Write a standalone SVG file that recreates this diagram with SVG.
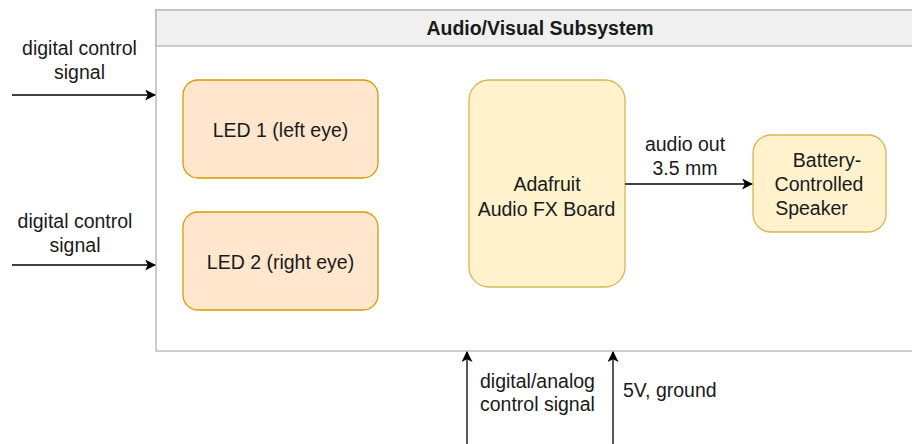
<svg xmlns="http://www.w3.org/2000/svg" width="912" height="444" viewBox="0 0 912 444">
<style>
text{font-family:"Liberation Sans",Arial,sans-serif;font-size:19.5px;fill:#1a1a1a}
.c{text-anchor:middle}
.led{fill:#ffe6cc;stroke:#d79b00;stroke-width:1.3}
.yel{fill:#fff2cc;stroke:#d6b656;stroke-width:1.3}
.edge{stroke:#000;stroke-width:1.3;fill:none;marker-end:url(#ah)}
</style>
<defs>
<marker id="ah" viewBox="0 0 10 10" refX="9" refY="5" markerWidth="11" markerHeight="11" markerUnits="userSpaceOnUse" orient="auto">
<path d="M0,0 L10,5 L0,10 L2.5,5 Z" fill="#000"/>
</marker>
</defs>
<rect width="912" height="444" fill="#fff"/>
<g id="container">
<rect x="156" y="10" width="770" height="341" fill="#fff" stroke="#b3b3b3" stroke-width="1.3"/>
<rect x="156" y="10" width="770" height="36" fill="#f0f0f0" stroke="#b3b3b3" stroke-width="1.3"/>
<text x="540" y="35" class="c" style="font-weight:bold">Audio/Visual Subsystem</text>
</g>
<g id="led1">
<rect class="led" x="183" y="80" width="195" height="98" rx="15"/>
<text x="280.5" y="137" class="c">LED 1 (left eye)</text>
</g>
<g id="led2">
<rect class="led" x="183" y="212" width="195" height="98" rx="15"/>
<text x="280.5" y="269" class="c">LED 2 (right eye)</text>
</g>
<g id="fxboard">
<rect class="yel" x="469" y="80" width="156" height="207" rx="20"/>
<text x="547" y="191" class="c">Adafruit</text>
<text x="546.5" y="216" class="c">Audio FX Board</text>
</g>
<g id="speaker">
<rect class="yel" x="753" y="135" width="133" height="97" rx="18"/>
<text x="827" y="167" class="c">Battery-</text>
<text x="819" y="191" class="c">Controlled</text>
<text x="811.5" y="215" class="c">Speaker</text>
</g>
<g id="connectors">
<line class="edge" x1="12" y1="95" x2="155" y2="95"/>
<text x="79.5" y="55" class="c">digital control</text>
<text x="79.5" y="79" class="c">signal</text>
<line class="edge" x1="12" y1="265" x2="155" y2="265"/>
<text x="75" y="228" class="c">digital control</text>
<text x="75" y="252" class="c">signal</text>
<line class="edge" x1="625" y1="184" x2="752" y2="184"/>
<text x="685" y="151" class="c">audio out</text>
<text x="685" y="175" class="c">3.5 mm</text>
<line class="edge" x1="467" y1="444" x2="467" y2="352"/>
<text x="480" y="388">digital/analog</text>
<text x="480" y="411">control signal</text>
<line class="edge" x1="613" y1="444" x2="613" y2="352"/>
<text x="623" y="397">5V, ground</text>
</g>
</svg>
